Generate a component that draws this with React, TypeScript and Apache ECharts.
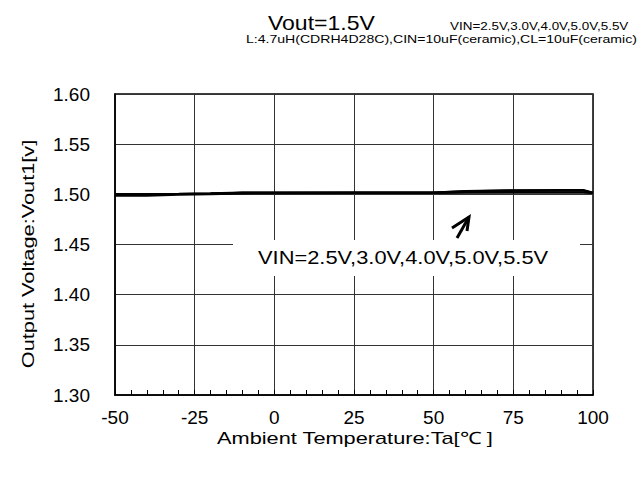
import React, { useEffect, useRef } from "react";
import * as echarts from "echarts";

// Ambient temperature sample points (°C)
const temps = [-50, -40, -30, -20, -10, 0, 25, 50, 60, 75, 90, 97, 100];

// Output voltage (V) for each input voltage
const vin25 = [1.4985, 1.4985, 1.4996, 1.5000, 1.5008, 1.5010, 1.5012, 1.5012, 1.5014, 1.5015, 1.5015, 1.5015, 1.5012];
const vin30 = [1.5000, 1.5001, 1.5003, 1.5006, 1.5014, 1.5014, 1.5015, 1.5015, 1.5019, 1.5022, 1.5022, 1.5022, 1.5013];
const vin40 = [1.5001, 1.5002, 1.5004, 1.5008, 1.5016, 1.5016, 1.5017, 1.5017, 1.5026, 1.5033, 1.5034, 1.5034, 1.5015];
const vin50 = [1.5002, 1.5003, 1.5005, 1.5010, 1.5018, 1.5018, 1.5019, 1.5019, 1.5031, 1.5039, 1.5040, 1.5040, 1.5017];
const vin55 = [1.5003, 1.5004, 1.5006, 1.5011, 1.5019, 1.5019, 1.5020, 1.5020, 1.5034, 1.5042, 1.5044, 1.5044, 1.5018];

const seriesList = [
  { name: "VIN=2.5V", values: vin25 },
  { name: "VIN=3.0V", values: vin30 },
  { name: "VIN=4.0V", values: vin40 },
  { name: "VIN=5.0V", values: vin50 },
  { name: "VIN=5.5V", values: vin55 },
];

const xName = "Ambient Temperature:Ta[℃ ]";
const yName = "Output Voltage:Vout1[v]";

const FONT = "'Liberation Sans', Arial, sans-serif";

export default function App() {
  const ref = useRef<HTMLDivElement>(null);

  useEffect(() => {
    document.body.style.margin = "0";
    const chart = echarts.init(ref.current!, null, { renderer: "svg" });

    const textEl = (
      text: string,
      x: number,
      y: number,
      fontSize: number,
      scaleX: number,
      align: string = "left",
      rotation: number = 0
    ) => ({
      type: "text",
      x,
      y,
      scaleX,
      rotation,
      z: 100,
      style: {
        text,
        fontSize,
        fontFamily: FONT,
        fill: "#000",
        align,
        verticalAlign: "middle",
      },
    });

    const option = {
      animation: false,
      backgroundColor: "#fff",
      textStyle: { fontFamily: FONT },
      grid: {
        left: 115,
        right: 51,
        top: 94,
        bottom: 83,
        show: true,
        borderColor: "#000",
        borderWidth: 1.5,
      },
      xAxis: {
        type: "value",
        min: -50,
        max: 100,
        interval: 25,
        axisLine: { show: true, onZero: false, lineStyle: { color: "#000", width: 1.5 } },
        axisTick: { show: true, inside: true, length: 5, lineStyle: { color: "#000" } },
        minorTick: { show: true, splitNumber: 5, length: 5, lineStyle: { color: "#000", width: 1 } },
        axisLabel: { fontSize: 19, color: "#000", margin: 13, fontFamily: FONT },
        splitLine: { show: true, lineStyle: { color: "#333", width: 1 } },
      },
      yAxis: {
        type: "value",
        min: 1.3,
        max: 1.6,
        interval: 0.05,
        axisLine: { show: true, onZero: false, lineStyle: { color: "#000", width: 1.5 } },
        axisTick: { show: false },
        axisLabel: {
          fontSize: 19,
          color: "#000",
          margin: 25,
          fontFamily: FONT,
          formatter: (v: number) => v.toFixed(2),
        },
        splitLine: { show: true, lineStyle: { color: "#333", width: 1 } },
      },
      series: seriesList.map((s) => ({
        type: "line",
        name: s.name,
        showSymbol: false,
        data: temps.map((t, i) => [t, s.values[i]]),
        lineStyle: { color: "#000", width: 1.8 },
        z: 3,
      })),
      graphic: [
        textEl("Vout=1.5V", 268, 23, 20, 1.15),
        textEl("VIN=2.5V,3.0V,4.0V,5.0V,5.5V", 450, 27, 10.5, 1.28),
        textEl("L:4.7uH(CDRH4D28C),CIN=10uF(ceramic),CL=10uF(ceramic)", 246, 40, 11, 1.28),
        // axis titles
        textEl(xName, 355, 438, 17, 1.28, "center"),
        textEl(yName, 28, 254, 17, 1.28, "center", Math.PI / 2),
        // annotation box and arrow
        {
          type: "rect",
          z: 90,
          shape: { x: 233, y: 240, width: 347, height: 36 },
          style: { fill: "#fff" },
        },
        textEl("VIN=2.5V,3.0V,4.0V,5.0V,5.5V", 258, 257, 19, 1.15),
        {
          type: "polyline",
          z: 100,
          shape: { points: [[457, 238], [469, 217]] },
          style: { stroke: "#000", lineWidth: 3, fill: null },
        },
        {
          type: "polyline",
          z: 100,
          shape: { points: [[452, 228], [469, 217], [467, 231]] },
          style: { stroke: "#000", lineWidth: 3, fill: null, lineJoin: "miter" },
        },
      ],
    };

    chart.setOption(option as any);
    return () => chart.dispose();
  }, []);

  return <div ref={ref} style={{ width: 644, height: 478 }} />;
}
